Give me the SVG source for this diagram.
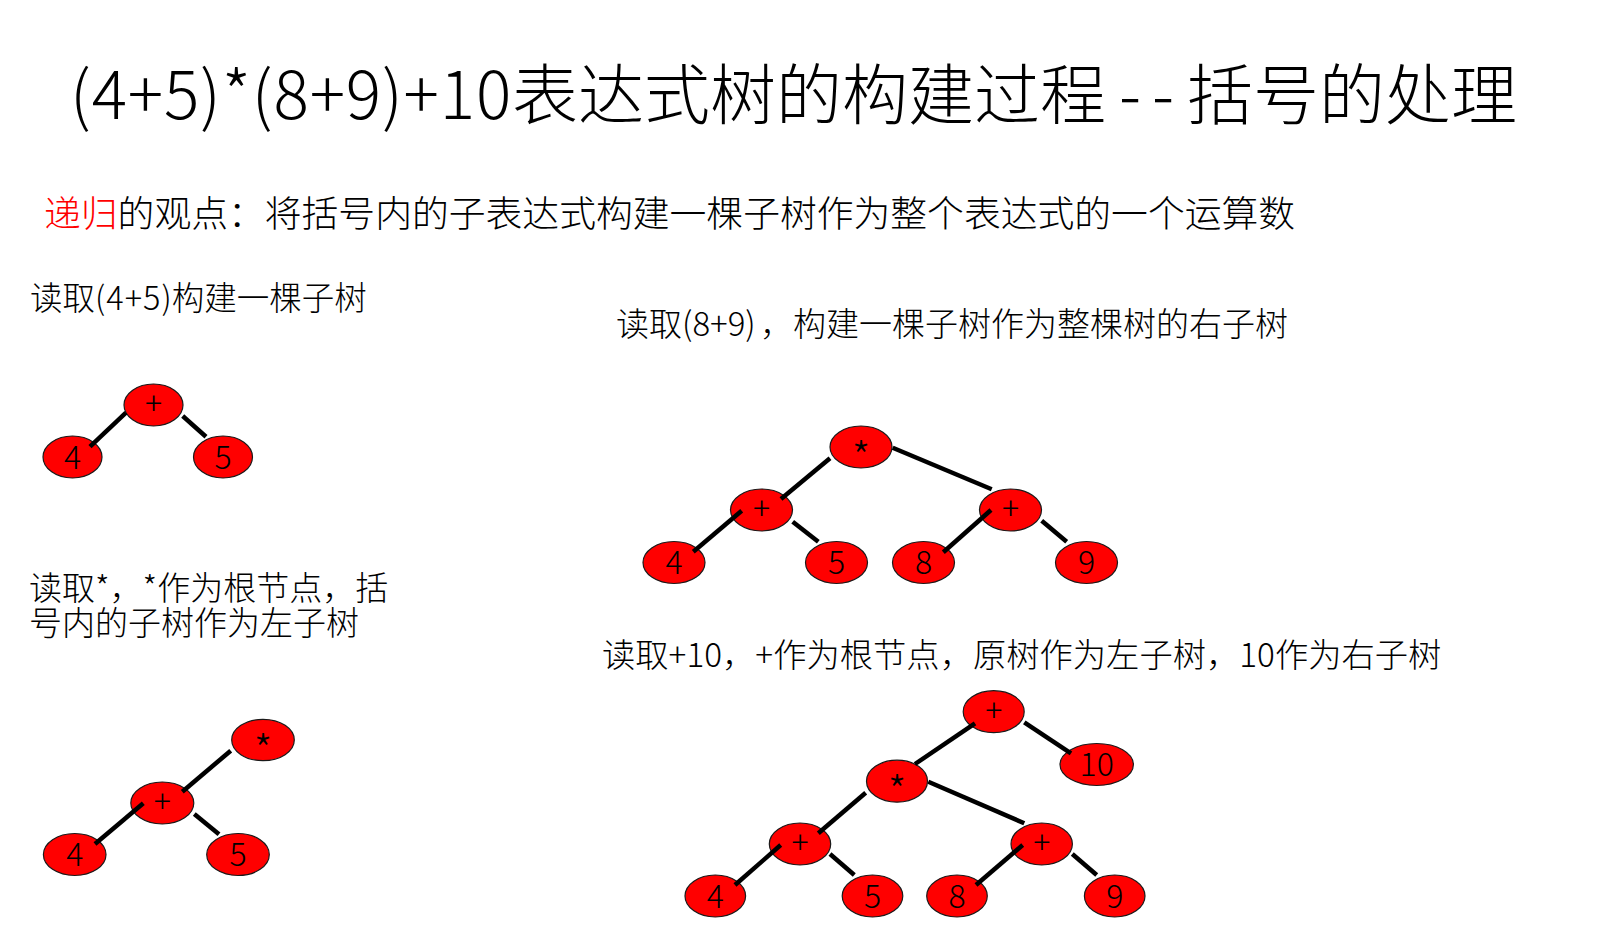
<svg xmlns="http://www.w3.org/2000/svg" width="1605" height="935" viewBox="0 0 1605 935">
<style>
.t{font-family:"Noto Sans CJK SC","Liberation Sans",sans-serif;fill:#000;font-weight:300}
.title{font-size:66px}
.sub{font-size:36.8px}
.red{fill:#FF0000}
.n ellipse{fill:#FF0000;stroke:#1a1a1a;stroke-width:1.2}
.n text{font-family:"Noto Sans CJK SC","Liberation Sans",sans-serif;font-weight:300;font-size:32px;text-anchor:middle;fill:#000}
.n text.s{font-size:42px}
.c line{stroke:#000;stroke-width:4.5}
</style>
<rect width="1605" height="935" fill="#fff"/>
<g id="texts">
<text class="t title" x="70" y="119"><tspan letter-spacing="0.85">(4+5)*(8+9)+10</tspan><tspan x="512">表达式树的构建过程</tspan><tspan x="1119">-</tspan><tspan x="1152">-</tspan><tspan x="1187">括号的处理</tspan></text>
<text class="t sub" x="44" y="227"><tspan class="red">递归</tspan>的观点：将括号内的子表达式构建一棵子树作为整个表达式的一个运算数</text>
<text class="t" x="30" y="310" font-size="32.5">读取<tspan letter-spacing="1">(4+5)</tspan><tspan x="171.7">构建一棵子树</tspan></text>
<text class="t" x="616" y="336" font-size="33">读取(8+9)<tspan x="760">，构建一棵子树作为整棵树的右子树</tspan></text>
<text class="t" x="29" y="600" font-size="33">读取*，*作为根节点，括<tspan x="29" dy="34.5">号内的子树作为左子树</tspan></text>
<text class="t" x="602" y="667" font-size="33.3">读取+10，+作为根节点，原树作为左子树，10作为右子树</text>
</g>
<!-- Tree 1 -->
<g id="t1-plus" class="n"><ellipse cx="153.5" cy="405" rx="29.5" ry="21"/><text x="153.5" y="415">+</text></g>
<g id="t1-4" class="n"><ellipse cx="72.5" cy="457" rx="29.5" ry="21"/><text x="72.5" y="468.5">4</text></g>
<g id="t1-5" class="n"><ellipse cx="223" cy="457" rx="29.5" ry="21"/><text x="223" y="468.5">5</text></g>
<!-- Tree 2 -->
<g id="t2-star" class="n"><ellipse cx="861" cy="447" rx="31" ry="21"/><text class="s" x="861" y="473">*</text></g>
<g id="t2-plusL" class="n"><ellipse cx="761.5" cy="510" rx="31" ry="21"/><text x="761.5" y="520">+</text></g>
<g id="t2-plusR" class="n"><ellipse cx="1010.5" cy="510" rx="31" ry="21"/><text x="1010.5" y="520">+</text></g>
<g id="t2-4" class="n"><ellipse cx="674" cy="562.5" rx="31" ry="21"/><text x="674" y="574">4</text></g>
<g id="t2-5" class="n"><ellipse cx="836.5" cy="562.5" rx="31" ry="21"/><text x="836.5" y="574">5</text></g>
<g id="t2-8" class="n"><ellipse cx="923.5" cy="562.5" rx="31" ry="21"/><text x="923.5" y="574">8</text></g>
<g id="t2-9" class="n"><ellipse cx="1086.5" cy="562.5" rx="31" ry="21"/><text x="1086.5" y="574">9</text></g>
<!-- Tree 3 -->
<g id="t3-star" class="n"><ellipse cx="263" cy="740" rx="31.3" ry="20.7"/><text class="s" x="263" y="766">*</text></g>
<g id="t3-plus" class="n"><ellipse cx="162.3" cy="803" rx="31.5" ry="21"/><text x="162.3" y="813">+</text></g>
<g id="t3-4" class="n"><ellipse cx="74.7" cy="854.5" rx="31.3" ry="21"/><text x="74.7" y="866">4</text></g>
<g id="t3-5" class="n"><ellipse cx="238" cy="854.5" rx="31.3" ry="21"/><text x="238" y="866">5</text></g>
<!-- Tree 4 -->
<g id="t4-plusTop" class="n"><ellipse cx="993.7" cy="711.7" rx="30.5" ry="21"/><text x="993.7" y="721.7">+</text></g>
<g id="t4-10" class="n"><ellipse cx="1096.7" cy="764.5" rx="36.7" ry="21"/><text x="1096.7" y="776">10</text></g>
<g id="t4-star" class="n"><ellipse cx="897" cy="781.2" rx="30.5" ry="21"/><text class="s" x="897" y="807">*</text></g>
<g id="t4-plusL" class="n"><ellipse cx="800" cy="844" rx="30.7" ry="21"/><text x="800" y="854">+</text></g>
<g id="t4-plusR" class="n"><ellipse cx="1041.7" cy="844" rx="30.7" ry="21"/><text x="1041.7" y="854">+</text></g>
<g id="t4-4" class="n"><ellipse cx="715.3" cy="896" rx="30.3" ry="21"/><text x="715.3" y="907.5">4</text></g>
<g id="t4-5" class="n"><ellipse cx="872.5" cy="896" rx="30.3" ry="21"/><text x="872.5" y="907.5">5</text></g>
<g id="t4-8" class="n"><ellipse cx="957" cy="896" rx="30.3" ry="21"/><text x="957" y="907.5">8</text></g>
<g id="t4-9" class="n"><ellipse cx="1114.7" cy="896" rx="30.3" ry="21"/><text x="1114.7" y="907.5">9</text></g>
<g id="connectors" class="c">
<line x1="90" y1="446.7" x2="126" y2="412.7"/>
<line x1="182.7" y1="416" x2="206" y2="436.7"/>
<line x1="830" y1="458.3" x2="781" y2="499"/>
<line x1="892.7" y1="447.7" x2="991.7" y2="489.3"/>
<line x1="741.7" y1="510.7" x2="693.3" y2="551.7"/>
<line x1="792.7" y1="521.7" x2="818.3" y2="541.7"/>
<line x1="991" y1="510" x2="943.3" y2="552.3"/>
<line x1="1041.7" y1="520.7" x2="1066.7" y2="541.7"/>
<line x1="230.7" y1="750.7" x2="182.3" y2="791.7"/>
<line x1="143.3" y1="803.3" x2="95" y2="844"/>
<line x1="194.3" y1="814" x2="219" y2="834.3"/>
<line x1="975" y1="723.3" x2="915" y2="764"/>
<line x1="1024.3" y1="722.3" x2="1071" y2="753.3"/>
<line x1="865.7" y1="792.7" x2="818.3" y2="833.3"/>
<line x1="928.3" y1="781.7" x2="1024.3" y2="823.3"/>
<line x1="780.7" y1="845" x2="735" y2="885"/>
<line x1="830" y1="854" x2="854.3" y2="875"/>
<line x1="1022.7" y1="845" x2="976" y2="885"/>
<line x1="1072.3" y1="854" x2="1096.7" y2="875"/>
</g>
</svg>
